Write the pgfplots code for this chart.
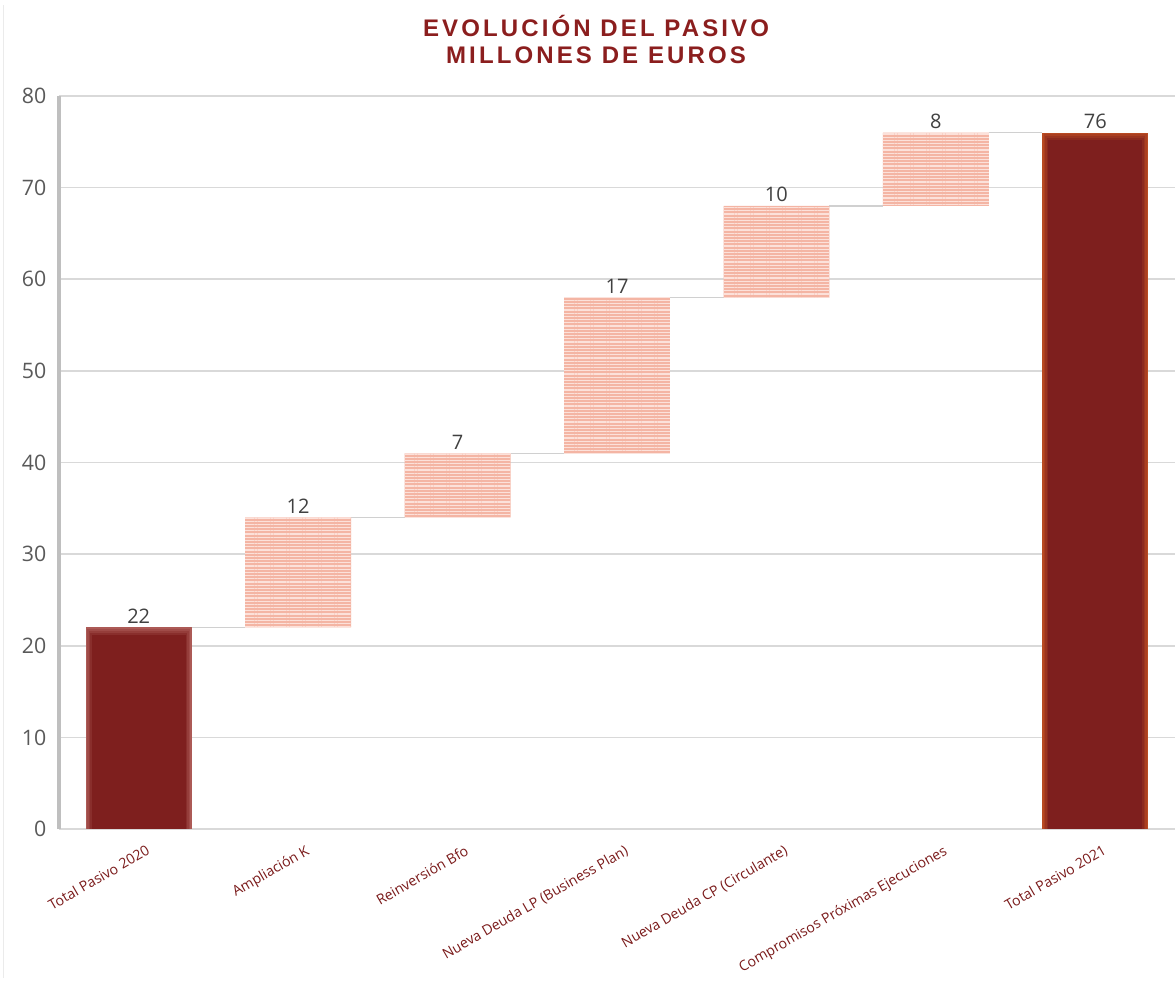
\documentclass[border=0pt]{standalone}
\usepackage{fontspec}
\usepackage{pgfplots}
\pgfplotsset{compat=1.18}
\usetikzlibrary{patterns.meta}
\setmainfont{Open Sans}
\newfontfamily\titlefont[LetterSpace=13]{Liberation Sans}
\definecolor{titlered}{HTML}{8B1E1E}
\definecolor{xlabred}{HTML}{7A1A1A}
\definecolor{corered}{HTML}{7E1F1E}
\definecolor{edgeA}{HTML}{AC5A56}
\definecolor{edgeB}{HTML}{B84A22}
\definecolor{salmon}{HTML}{F4B5A4}
\definecolor{stripe}{HTML}{FCE1DA}
\definecolor{gridgray}{HTML}{D9D9D9}
\definecolor{axisgray}{HTML}{BFBFBF}
\definecolor{tickgray}{HTML}{595959}
\definecolor{labgray}{HTML}{404040}
\definecolor{conngray}{HTML}{D0D0D0}
\definecolor{framegray}{HTML}{EBEBEB}
\begin{document}
\begin{tikzpicture}
\path[use as bounding box] (0pt,0pt) rectangle (881.25pt,736.5pt);
\draw[framegray, line width=0.8pt] (2.5pt,3pt) -- (2.5pt,733pt);
\node[anchor=base, text=titlered, font=\titlefont\bfseries\fontsize{18}{20}\selectfont] at (447pt,708.75pt) {EVOLUCIÓN DEL PASIVO};
\node[anchor=base, text=titlered, font=\titlefont\bfseries\fontsize{18}{20}\selectfont] at (447pt,688.5pt) {MILLONES DE EUROS};
\begin{axis}[
  at={(44.25pt,114.75pt)}, anchor=south west,
  scale only axis, width=837pt, height=549.75pt,
  xmin=-0.5, xmax=6.5, ymin=0, ymax=80,
  ytick={0,10,20,30,40,50,60,70,80},
  xtick={0,1,2,3,4,5,6},
  xticklabels={Total Pasivo 2020, Ampliación K, Reinversión Bfo, Nueva Deuda LP (Business Plan), Nueva Deuda CP (Circulante), Compromisos Próximas Ejecuciones, Total Pasivo 2021},
  ymajorgrids, grid style={draw=gridgray, line width=1.3pt},
  axis y line*=left, axis x line*=bottom,
  x axis line style={draw=none},
  y axis line style={draw=axisgray, line width=2.3pt, -},
  major tick length=0pt, tick style={draw=none},
  /pgf/number format/assume math mode=true,
  yticklabel style={font=\fontsize{16}{16}\selectfont, text=tickgray, xshift=-6pt},
  xticklabel style={font=\fontsize{10.6}{11}\selectfont, text=xlabred, rotate=30, anchor=north east, yshift=-9pt, xshift=2pt},
  clip=false,
  unbounded coords=jump,
  every node near coord/.append style={font=\fontsize{15}{15}\selectfont, text=labgray, anchor=south, inner sep=3pt},
]
% total bars (layered to mimic soft glow)
\addplot[ybar, bar width=0.664, bar shift=0pt, fill=edgeA, draw=none, forget plot] coordinates {(0,22)};
\addplot[ybar, bar width=0.646, bar shift=0pt, fill=edgeA!75!corered, draw=none, forget plot] coordinates {(0,21.8)};
\addplot[ybar, bar width=0.628, bar shift=0pt, fill=edgeA!50!corered, draw=none, forget plot] coordinates {(0,21.6)};
\addplot[ybar, bar width=0.610, bar shift=0pt, fill=edgeA!25!corered, draw=none, forget plot] coordinates {(0,21.4)};
\addplot[ybar, bar width=0.592, bar shift=0pt, fill=corered, draw=none, forget plot] coordinates {(0,21.2)};
\addplot[ybar, bar width=0.664, bar shift=0pt, fill=edgeB, draw=none, forget plot] coordinates {(6,76)};
\addplot[ybar, bar width=0.646, bar shift=0pt, fill=edgeB!75!corered, draw=none, forget plot] coordinates {(6,75.8)};
\addplot[ybar, bar width=0.628, bar shift=0pt, fill=edgeB!50!corered, draw=none, forget plot] coordinates {(6,75.6)};
\addplot[ybar, bar width=0.610, bar shift=0pt, fill=edgeB!25!corered, draw=none, forget plot] coordinates {(6,75.4)};
\addplot[ybar, bar width=0.592, bar shift=0pt, fill=corered, draw=none, forget plot] coordinates {(6,75.2)};
% connectors
\addplot[conngray, line width=1pt] coordinates {
 (0.332,22) (0.668,22) (nan,nan)
 (1.332,34) (1.668,34) (nan,nan)
 (2.332,41) (2.668,41) (nan,nan)
 (3.332,58) (3.668,58) (nan,nan)
 (4.332,68) (4.668,68) (nan,nan)
 (5.332,76) (5.668,76)};
% data labels at bar tops
\addplot[draw=none, mark=none, nodes near coords, point meta=explicit]
 coordinates {(0,22)[22] (1,34)[12] (2,41)[7] (3,58)[17] (4,68)[10] (5,76)[8] (6,76)[76]};
\end{axis}
\begin{axis}[
  at={(44.25pt,114.75pt)}, anchor=south west,
  scale only axis, width=837pt, height=549.75pt,
  xmin=-0.5, xmax=6.5, ymin=0, ymax=80,
  hide axis, ybar stacked, bar width=0.664, clip=false,
]
\addplot[draw=none, fill=none] coordinates {(1,22) (2,34) (3,41) (4,58) (5,68)};
\addplot[fill=salmon, draw=none,
  postaction={pattern={Lines[angle=0,distance=2.4pt,line width=0.9pt]}, pattern color=stripe}]
  coordinates {(1,12) (2,7) (3,17) (4,10) (5,8)};
\end{axis}
\end{tikzpicture}
\end{document}
